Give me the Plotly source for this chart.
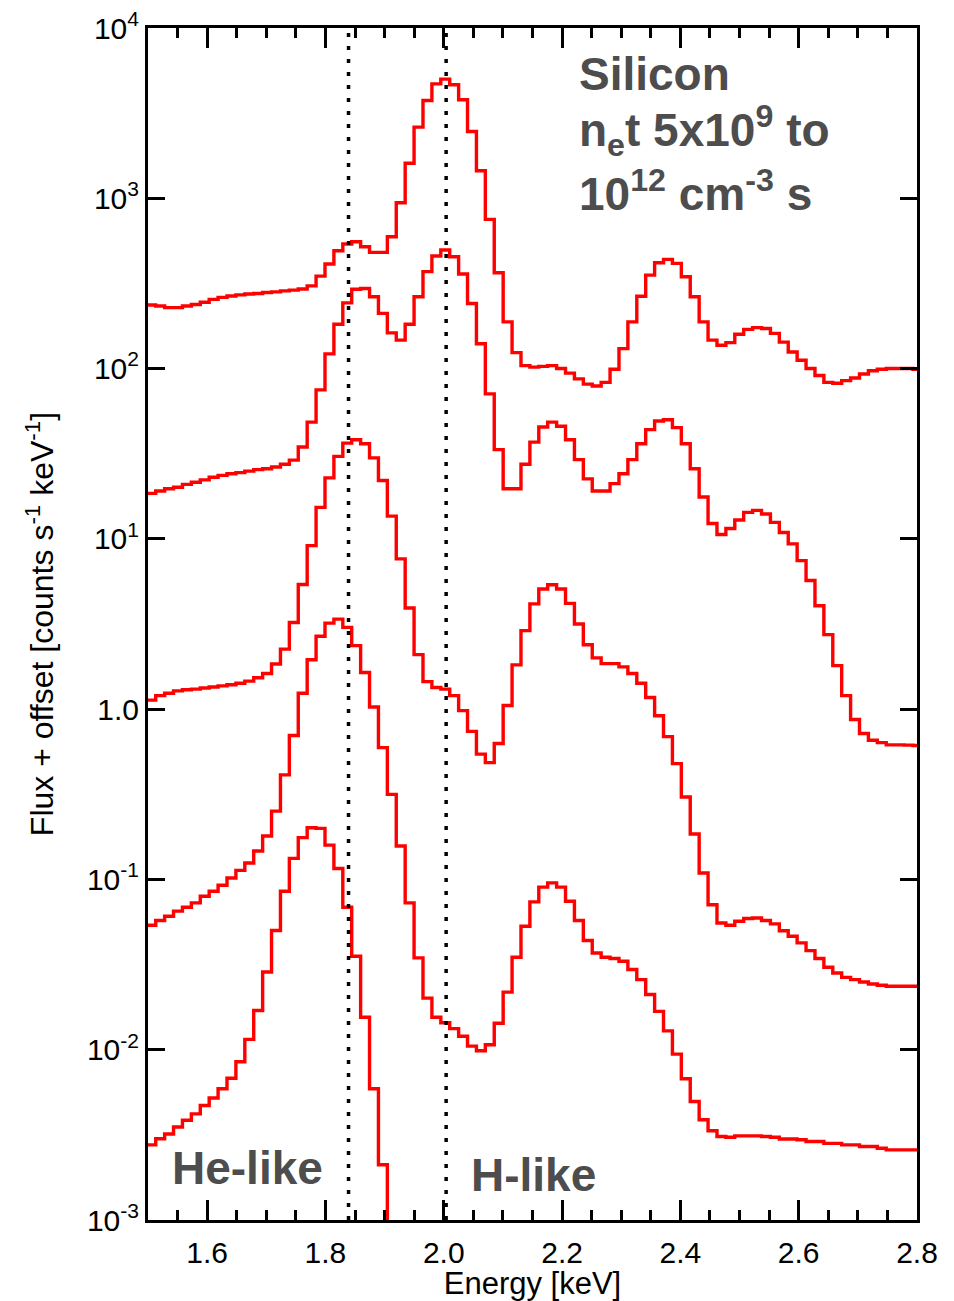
import numpy as np
import plotly.graph_objects as go

# Energy grid (bin edges, keV) shared by all spectra
energy_edges = np.round(1.498 + 0.01506 * np.arange(88), 5)

# Spectra (flux + offset, counts s^-1 keV^-1), one value per bin, from high to low n_e t offset
spec_1 = [236, 233, 228, 228, 233, 238, 245, 255, 262, 267, 271, 274, 276, 280, 282, 286, 289, 293, 306, 349,
          411, 492, 539, 556, 519, 481, 481, 594, 942, 1607, 2618, 3753, 4700, 5010, 4640, 3790, 2465, 1452, 752, 365,
          188, 124, 104, 102, 103, 104, 100, 94, 87, 81, 79, 83, 99, 131, 188, 266, 354, 418, 438, 415,
          346, 264, 188, 147, 137, 142, 159, 170, 174, 172, 161, 143, 125, 112, 100, 91, 83, 82, 85, 88,
          93, 97, 99, 100, 100, 100, 99]
spec_2 = [18.5, 19.1, 19.7, 20.1, 20.9, 21.5, 22.2, 23.0, 23.6, 24.1, 24.5, 25.0, 25.5, 25.8, 26.4, 27.4, 29.0, 34.6, 48.5, 75,
          122, 182, 243, 292, 295, 264, 211, 162, 147, 182, 264, 371, 458, 497, 454, 359, 241, 140, 71, 33.4,
          19.7, 19.7, 27.4, 37, 45.4, 48.5, 45.8, 38.2, 29.2, 22.5, 19.1, 19.1, 21.1, 24.1, 29.2, 36.2, 43.8, 49.2, 50.1, 45,
          36.2, 25.8, 17.6, 12.3, 10.6, 11.5, 12.9, 14.3, 14.7, 14.0, 12.5, 10.9, 9.35, 7.45, 5.69, 4.05, 2.74, 1.80, 1.20, 0.87,
          0.72, 0.657, 0.636, 0.617, 0.617, 0.615, 0.612]
spec_3 = [1.13, 1.20, 1.24, 1.28, 1.30, 1.31, 1.33, 1.35, 1.37, 1.39, 1.42, 1.46, 1.53, 1.62, 1.84, 2.25, 3.23, 5.39, 9.13, 15.3,
          22.8, 30.5, 36.5, 38.2, 36.2, 29.9, 22.0, 13.6, 7.63, 3.93, 2.09, 1.45, 1.34, 1.31, 1.20, 0.98, 0.74, 0.544, 0.485, 0.628,
          1.05, 1.82, 2.89, 4.15, 5.08, 5.38, 5.08, 4.18, 3.16, 2.39, 2.0, 1.85, 1.85, 1.77, 1.62, 1.42, 1.17, 0.914, 0.69, 0.479,
          0.305, 0.185, 0.109, 0.071, 0.0555, 0.0538, 0.0568, 0.059, 0.0594, 0.0574, 0.0548, 0.050, 0.0464, 0.0424, 0.0382, 0.0343, 0.0305, 0.0282, 0.0266, 0.0258,
          0.025, 0.0243, 0.0239, 0.0236, 0.0236, 0.0236, 0.0236]
spec_4 = [0.0538, 0.0574, 0.0608, 0.0651, 0.0687, 0.0728, 0.0797, 0.0853, 0.0925, 0.102, 0.113, 0.125, 0.147, 0.18, 0.252, 0.411, 0.70, 1.24, 1.95, 2.68,
          3.2, 3.38, 3.02, 2.36, 1.64, 1.03, 0.594, 0.316, 0.157, 0.0728, 0.0346, 0.0201, 0.0155, 0.0144, 0.0133, 0.012, 0.0105, 0.00986, 0.0107, 0.0143,
          0.0218, 0.0349, 0.0531, 0.0738, 0.0901, 0.0955, 0.0901, 0.0745, 0.0574, 0.0438, 0.037, 0.0349, 0.0343, 0.0331, 0.0296, 0.0258, 0.0211, 0.0168, 0.0129, 0.00942,
          0.00675, 0.00496, 0.00388, 0.00334, 0.00309, 0.00306, 0.00312, 0.00312, 0.00312, 0.00309, 0.00306, 0.00299, 0.00299, 0.00296, 0.00289, 0.00289, 0.00282, 0.00282, 0.00276, 0.00276,
          0.0027, 0.0027, 0.00264, 0.00258, 0.00258, 0.00258, 0.00258]
spec_5 = [0.00276, 0.0030, 0.0032, 0.00352, 0.00385, 0.0042, 0.0047, 0.0052, 0.0059, 0.0068, 0.0085, 0.0115, 0.017, 0.0286, 0.0501, 0.0853, 0.133, 0.176, 0.201, 0.1995,
          0.159, 0.116, 0.0687, 0.0354, 0.0155, 0.0059, 0.00211, 0.0002]

spectra = [spec_1, spec_2, spec_3, spec_4, spec_5]

# Reference line energies (keV): He-like and H-like Si
line_energies = [1.839, 2.004]

# Axis ticks
x_tickvals = [1.6, 1.8, 2.0, 2.2, 2.4, 2.6, 2.8]
x_ticktext = ["1.6", "1.8", "2.0", "2.2", "2.4", "2.6", "2.8"]
y_tickvals = [1e-3, 1e-2, 1e-1, 1, 10, 100, 1000, 10000]
y_ticktext = ["10<sup>-3</sup>", "10<sup>-2</sup>", "10<sup>-1</sup>", "1.0",
              "10<sup>1</sup>", "10<sup>2</sup>", "10<sup>3</sup>", "10<sup>4</sup>"]

fig = go.Figure()
for vals in spectra:
    n = len(vals)
    xs = list(energy_edges[:n + 1])
    ys = list(vals) + [vals[-1]]
    fig.add_trace(go.Scatter(x=xs, y=ys, mode="lines", line=dict(color="#ff0000", width=3.4, shape="hv"),
                             hoverinfo="skip"))

for e in line_energies:
    fig.add_shape(type="line", x0=e, x1=e, xref="x", yref="paper", y0=0, y1=1,
                  line=dict(color="black", width=3.5, dash="4px,9px"), layer="above")

FONT = "Liberation Sans, Arial, Helvetica, sans-serif"
GRAY = "#4d4d4d"

fig.update_layout(
    width=954, height=1301,
    margin=dict(l=148, r=37, t=28, b=81, autoexpand=False),
    plot_bgcolor="white", paper_bgcolor="white",
    showlegend=False,
    font=dict(family=FONT, color="black", size=30),
    xaxis=dict(
        range=[1.5, 2.8], showgrid=False, zeroline=False, automargin=False,
        showline=True, linewidth=3, linecolor="black", mirror="ticks",
        ticks="inside", ticklen=20, tickwidth=2.5, tickcolor="black",
        tickmode="array", tickvals=x_tickvals, ticktext=x_ticktext,
        tickfont=dict(size=30, family=FONT, color="black"),
        ticklabelstandoff=4,
        minor=dict(ticks="inside", ticklen=10, tickwidth=2.5, tickcolor="black",
                   tickmode="linear", tick0=1.5, dtick=0.05, showgrid=False),
        title=dict(text="Energy [keV]", font=dict(size=31, family=FONT, color="black"), standoff=0),
    ),
    yaxis=dict(
        type="log", range=[-3, 4], showgrid=False, zeroline=False, automargin=False,
        showline=True, linewidth=3, linecolor="black", mirror="ticks",
        ticks="inside", ticklen=17, tickwidth=2.5, tickcolor="black",
        tickmode="array", tickvals=y_tickvals, ticktext=y_ticktext,
        tickfont=dict(size=30, family=FONT, color="black"),
        title=dict(text="Flux + offset [counts s<sup>-1</sup> keV<sup>-1</sup>]",
                   font=dict(size=32, family=FONT, color="black"), standoff=24),
    ),
)

ann_font = dict(family=FONT, size=46, color=GRAY, weight="bold")
annotations = [
    ("Silicon", 0.5575, 0.9614),
    ("n<sub>e</sub>t 5x10<sup>9</sup> to", 0.5575, 0.9144),
    ("10<sup>12</sup> cm<sup>-3</sup> s", 0.5575, 0.8635),
    ("He-like", 0.0290, 0.0436),
    ("H-like", 0.418, 0.038),
]
for txt, ax, ay in annotations:
    fig.add_annotation(text=txt, x=ax, y=ay, xref="paper", yref="paper", xanchor="left", yanchor="middle",
                       showarrow=False, font=ann_font)

fig.write_html("out.html")
